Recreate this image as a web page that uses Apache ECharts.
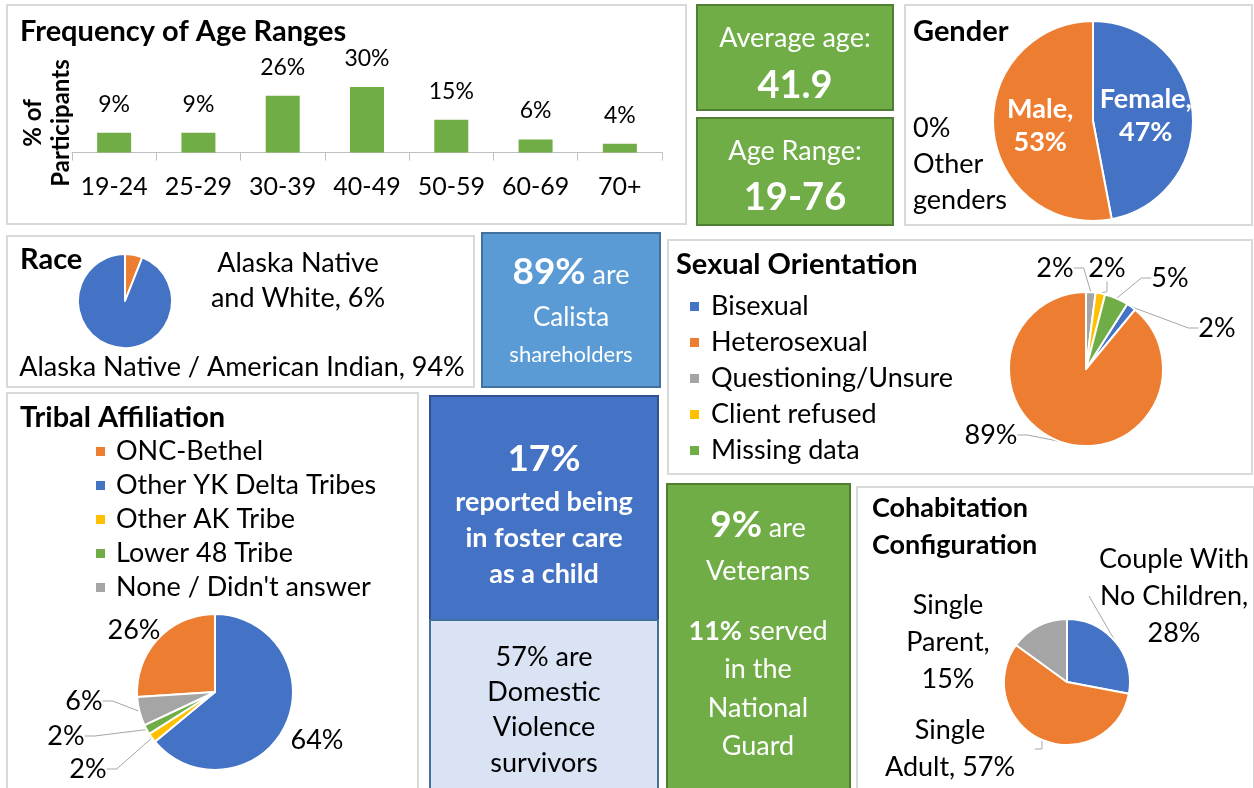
<!DOCTYPE html>
<html>
<head>
<meta charset="utf-8">
<script src="https://cdn.jsdelivr.net/npm/echarts@6/dist/echarts.min.js"></script>
<style>
html, body { margin: 0; padding: 0; background: #fff; }
#main { width: 1254px; height: 788px; }
</style>
</head>
<body>
<div id="main"></div>
<script>
// ---- data ----
var ageRanges = ['19-24', '25-29', '30-39', '40-49', '50-59', '60-69', '70+'];
var agePercents = [9, 9, 26, 30, 15, 6, 4];
var averageAge = '41.9';
var ageSpan = '19-76';

var genderNames = ['Female', 'Male', 'Other genders'];
var genderValues = [47, 53, 0];

var raceNames = ['Alaska Native and White', 'Alaska Native / American Indian'];
var raceValues = [6, 94];

var orientNames = ['Bisexual', 'Heterosexual', 'Questioning/Unsure', 'Client refused', 'Missing data'];
var orientValues = [2, 89, 2, 2, 5];

var tribeNames = ['ONC-Bethel', 'Other YK Delta Tribes', 'Other AK Tribe', 'Lower 48 Tribe', "None / Didn't answer"];
var tribeValues = [26, 64, 2, 2, 6];

var cohabNames = ['Couple With No Children', 'Single Adult', 'Single Parent'];
var cohabValues = [28, 57, 15];

var calistaPct = 89, fosterPct = 17, dvPct = 57, veteranPct = 9, guardPct = 11;

// ---- style ----
var FONT = 'Lato';
var BLUE = '#4472C4', ORANGE = '#ED7D31', GRAY = '#A5A5A5', GOLD = '#FFC000', GREEN = '#70AD47';
var BODY = 27, TITLE = 29, BIG = 38;

var chart = echarts.init(document.getElementById('main'));

function panel(x, y, w, h, fill, stroke) {
  return {
    type: 'rect', z: 0,
    shape: { x: x, y: y, width: w, height: h },
    style: { fill: fill || '#fff', stroke: stroke || '#D9D9D9', lineWidth: 2 }
  };
}
function txt(x, y, text, size, o) {
  o = o || {};
  return {
    type: 'text', z: 10, x: x, y: y,
    style: {
      text: text, fill: o.color || '#000', fontFamily: FONT, fontSize: size,
      fontWeight: o.bold ? 'bold' : 'normal',
      align: o.align || 'center', verticalAlign: 'middle',
      textAlign: o.align || 'center', textVerticalAlign: 'middle',
      lineHeight: o.lh, rich: o.rich
    }
  };
}
function richMix(bigSize, smallSize, color) {
  return {
    b: { fontFamily: FONT, fontSize: bigSize, fontWeight: 'bold', fill: color, verticalAlign: 'bottom' },
    n: { fontFamily: FONT, fontSize: smallSize, fill: color, verticalAlign: 'bottom', padding: [0, 0, 2, 0] }
  };
}
function spots(list) {
  return function (p) {
    var s = list[p.dataIndex];
    return { x: s[0], y: s[1], align: 'center', verticalAlign: 'middle' };
  };
}
function items(names, values) {
  return names.map(function (n, i) { return { name: n, value: values[i] }; });
}

var labelBase = { color: '#000', fontFamily: FONT, fontSize: BODY };
var lineBase = { show: true, length: 10, length2: 10, lineStyle: { color: '#A6A6A6', width: 1 } };

var graphics = [
  panel(7, 5, 679, 219),
  panel(905, 5, 347, 220),
  panel(7, 236, 467, 151),
  panel(668, 240, 584, 234),
  panel(7, 393, 411, 400),
  panel(857, 487, 397, 305),
  panel(697, 5, 196, 105, GREEN, '#507E32'),
  panel(697, 118, 196, 107, GREEN, '#507E32'),
  panel(482, 233, 178, 154, '#5B9BD5', '#41719C'),
  panel(430, 396, 228, 224, BLUE, '#2F528F'),
  panel(430, 620, 228, 172, '#DAE3F3', '#41719C'),
  panel(667, 484, 183, 308, GREEN, '#507E32'),

  txt(20, 32, 'Frequency of Age Ranges', TITLE, { bold: true, align: 'left' }),
  { type: 'text', z: 10, x: 47, y: 123, rotation: Math.PI / 2,
    style: { text: '% of\nParticipants', fill: '#000', fontFamily: FONT, fontSize: 24, fontWeight: 'bold',
      align: 'center', verticalAlign: 'middle', textAlign: 'center', textVerticalAlign: 'middle', lineHeight: 28 } },

  txt(795, 38, 'Average age:', BODY, { color: '#fff' }),
  txt(795, 86, averageAge, BIG, { color: '#fff', bold: true }),
  txt(795, 151, 'Age Range:', BODY, { color: '#fff' }),
  txt(795, 198, ageSpan, BIG, { color: '#fff', bold: true }),

  txt(913, 32, 'Gender', TITLE, { bold: true, align: 'left' }),
  txt(913, 164, genderValues[2] + '%\n' + genderNames[2].replace(' ', '\n'), BODY, { align: 'left', lh: 36 }),

  txt(20, 260, 'Race', TITLE, { bold: true, align: 'left' }),

  txt(571, 272, '{b|' + calistaPct + '%}{n| are}', BODY, { color: '#fff', rich: richMix(37, BODY, '#fff') }),
  txt(571, 318, 'Calista', 26, { color: '#fff' }),
  txt(571, 355, 'shareholders', 22, { color: '#fff' }),

  txt(676, 265, 'Sexual Orientation', TITLE, { bold: true, align: 'left' }),
  txt(20, 418, 'Tribal Affiliation', TITLE, { bold: true, align: 'left' }),

  txt(544, 459, fosterPct + '%', 37, { color: '#fff', bold: true }),
  txt(544, 538, 'reported being\nin foster care\nas a child', BODY, { color: '#fff', bold: true, lh: 36 }),

  txt(544, 710, dvPct + '% are\nDomestic\nViolence\nsurvivors', BODY, { lh: 35.3 }),

  txt(758, 525, '{b|' + veteranPct + '%}{n| are}', BODY, { color: '#fff', rich: richMix(37, BODY, '#fff') }),
  txt(758, 571, 'Veterans', BODY, { color: '#fff' }),
  txt(758, 631, '{b|' + guardPct + '%}{n| served}', BODY, { color: '#fff', rich: {
    b: { fontFamily: FONT, fontSize: BODY, fontWeight: 'bold', fill: '#fff' },
    n: { fontFamily: FONT, fontSize: BODY, fill: '#fff' } } }),
  txt(758, 708, 'in the\nNational\nGuard', BODY, { color: '#fff', lh: 38.5 }),

  txt(872, 527, 'Cohabitation\nConfiguration', 27, { bold: true, align: 'left', lh: 37 })
];

var option = {
  animation: false,
  graphic: { elements: graphics },
  grid: { left: 72, top: 87, width: 590, height: 65.5 },
  xAxis: {
    type: 'category', data: ageRanges,
    axisLine: { lineStyle: { color: '#BFBFBF', width: 1 } },
    axisTick: { show: true, interval: 0, length: 8, lineStyle: { color: '#BFBFBF' } },
    axisLabel: { interval: 0, margin: 22, fontSize: 25, color: '#000', fontFamily: FONT }
  },
  yAxis: { type: 'value', min: 0, max: 30, show: false },
  legend: [
    {
      data: orientNames, orient: 'vertical', left: 688, top: 293, padding: 0, icon: 'rect',
      itemWidth: 11, itemHeight: 11, itemGap: 9, selectedMode: false,
      textStyle: { fontFamily: FONT, fontSize: BODY, color: '#000', padding: [0, 0, 0, 6] }
    },
    {
      data: tribeNames, orient: 'vertical', left: 94, top: 438, padding: 0, icon: 'rect',
      itemWidth: 11, itemHeight: 11, itemGap: 7, selectedMode: false,
      textStyle: { fontFamily: FONT, fontSize: BODY, color: '#000', padding: [0, 0, 0, 5] }
    }
  ],
  series: [
    {
      type: 'bar', data: agePercents, barWidth: 34, silent: true,
      itemStyle: { color: GREEN },
      label: { show: true, position: 'top', distance: 17, formatter: '{c}%',
        fontSize: 23, color: '#000', fontFamily: FONT }
    },
    {
      type: 'pie', center: [1093, 121], radius: 100, startAngle: 90, silent: true,
      color: [BLUE, ORANGE, GRAY],
      data: items(genderNames, genderValues),
      itemStyle: { borderColor: '#fff', borderWidth: 2 },
      label: { position: 'inside', color: '#fff', fontWeight: 'bold', fontFamily: FONT,
        fontSize: BODY, lineHeight: 33,
        formatter: function (p) { return p.value ? p.name + ',\n' + p.value + '%' : ''; } },
      labelLine: { show: false }
    },
    {
      type: 'pie', center: [125, 301], radius: 47, startAngle: 90, silent: true,
      color: [ORANGE, BLUE],
      data: items(raceNames, raceValues),
      itemStyle: { borderColor: '#fff', borderWidth: 2 },
      label: Object.assign({}, labelBase, { lineHeight: 35, width: 460,
        formatter: function (p) {
          return p.dataIndex === 0 ? 'Alaska Native\nand White, ' + p.value + '%' : p.name + ', ' + p.value + '%';
        } }),
      labelLine: { show: false },
      labelLayout: spots([[298, 281], [242, 367]])
    },
    {
      type: 'pie', center: [1086, 369], radius: 77, startAngle: 57.6, silent: true,
      color: [BLUE, ORANGE, GRAY, GOLD, GREEN],
      data: items(orientNames, orientValues),
      itemStyle: { borderColor: '#fff', borderWidth: 2 },
      label: Object.assign({}, labelBase, { formatter: '{c}%' }),
      labelLine: lineBase,
      labelLayout: spots([[1217, 328], [991, 435], [1055, 268], [1107, 268], [1170, 278]])
    },
    {
      type: 'pie', center: [215, 692], radius: 78, startAngle: -176.4, silent: true,
      color: [ORANGE, BLUE, GOLD, GREEN, GRAY],
      data: items(tribeNames, tribeValues).map(function (d, i) {
        if (i < 2) d.labelLine = { show: false };
        return d;
      }),
      itemStyle: { borderColor: '#fff', borderWidth: 2 },
      label: Object.assign({}, labelBase, { formatter: '{c}%' }),
      labelLine: lineBase,
      labelLayout: spots([[134, 630], [317, 740], [88, 769], [66, 736], [84, 701]])
    },
    {
      type: 'pie', center: [1067, 682], radius: 63, startAngle: 90, silent: true,
      color: [BLUE, ORANGE, GRAY],
      data: items(cohabNames, cohabValues),
      itemStyle: { borderColor: '#fff', borderWidth: 2 },
      label: Object.assign({}, labelBase, { lineHeight: 37, width: 170,
        formatter: function (p) {
          if (p.dataIndex === 0) return 'Couple With\nNo Children,\n' + p.value + '%';
          if (p.dataIndex === 1) return 'Single\nAdult, ' + p.value + '%';
          return 'Single\nParent,\n' + p.value + '%';
        } }),
      labelLine: lineBase,
      labelLayout: spots([[1174, 596], [950, 749], [948, 642]])
    }
  ]
};

chart.setOption(option);
</script>
</body>
</html>
